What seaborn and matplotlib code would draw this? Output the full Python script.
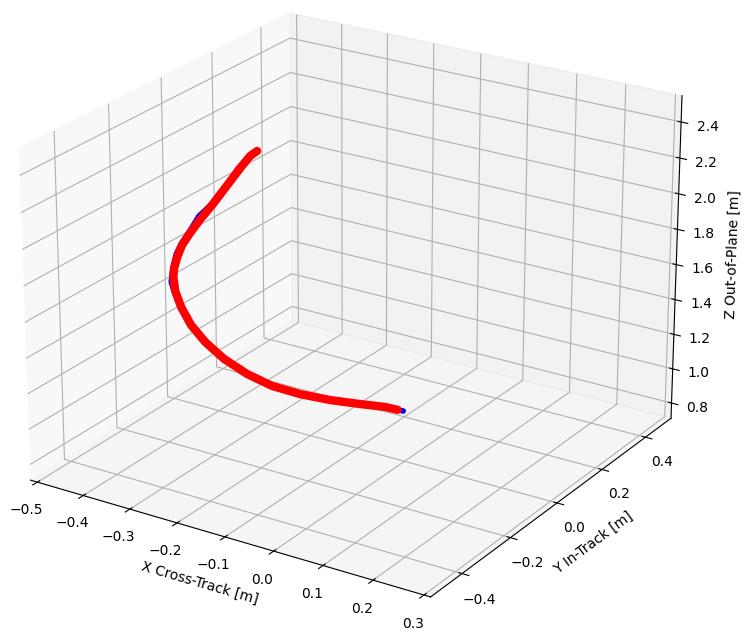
import numpy as np
import matplotlib.pyplot as plt
import seaborn as sns

sns.reset_defaults()

# measured trajectory (blue) and estimate (red)
x_red = [-0.310, -0.325, -0.350, -0.384, -0.425, -0.457, -0.486, -0.510, -0.527, -0.540, -0.548, -0.550,
         -0.543, -0.527, -0.501, -0.459, -0.408, -0.347, -0.280, -0.209, -0.134, -0.071, -0.040]
y_red = [0.0, 0.0, 0.01, 0.02, 0.03, 0.04, 0.05, 0.06, 0.07, 0.08, 0.09, 0.10,
         0.11, 0.12, 0.13, 0.13, 0.13, 0.12, 0.11, 0.10, 0.08, 0.06, 0.05]
z_red = [2.257, 2.220, 2.136, 2.012, 1.860, 1.751, 1.645, 1.552, 1.463, 1.382, 1.316, 1.224,
         1.126, 1.022, 0.930, 0.859, 0.806, 0.787, 0.796, 0.821, 0.870, 0.917, 0.932]

x_blue = [-0.310, -0.325, -0.356, -0.384, -0.423, -0.460, -0.488, -0.512, -0.529, -0.543, -0.553, -0.552,
          -0.543, -0.527, -0.501, -0.459, -0.408, -0.347, -0.280, -0.209, -0.134, -0.071, -0.028]
y_blue = y_red
z_blue = [2.257, 2.223, 2.126, 2.017, 1.872, 1.767, 1.649, 1.556, 1.479, 1.380, 1.283, 1.217,
          1.120, 1.022, 0.930, 0.859, 0.806, 0.787, 0.796, 0.821, 0.870, 0.917, 0.934]

x_ticks = [-0.5, -0.4, -0.3, -0.2, -0.1, 0.0, 0.1, 0.2, 0.3]
y_ticks = [-0.4, -0.2, 0.0, 0.2, 0.4]
z_ticks = [0.8, 1.0, 1.2, 1.4, 1.6, 1.8, 2.0, 2.2, 2.4]

W, H = 754, 643
side = 734.4
fig = plt.figure(figsize=(W / 100, H / 100), dpi=100)
ax = fig.add_axes([(346.2 - side / 2) / W, (345.1 - side / 2) / H, side / W, side / H], projection='3d')
ax.view_init(elev=22.98, azim=-57.43)
ax.set_box_aspect((4, 4.043, 3.024))

ax.plot(x_blue, y_blue, z_blue, color='blue', linewidth=4, solid_capstyle='round', solid_joinstyle='round')
ax.plot(x_red, y_red, z_red, color='red', linewidth=6, solid_capstyle='round', solid_joinstyle='round')

ax.set_xticks(x_ticks)
ax.set_yticks(y_ticks)
ax.set_zticks(z_ticks)
ax.set_xlim(-0.515, 0.313)
ax.set_ylim(-0.526, 0.521)
ax.set_zlim(0.711, 2.545)
ax.set_xlabel('X Cross-Track [m]')
ax.set_ylabel('Y In-Track [m]')
ax.set_zlabel('Z Out-of-Plane [m]')

fig.savefig('out.png', dpi=100)
